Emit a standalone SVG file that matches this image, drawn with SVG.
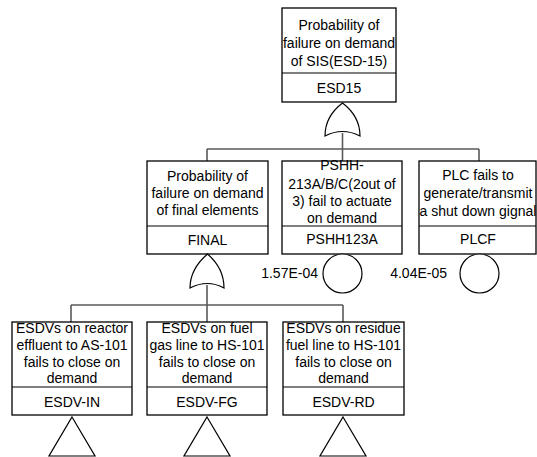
<svg xmlns="http://www.w3.org/2000/svg" width="537" height="457" viewBox="0 0 537 457">
  <style>
    .box { fill: #ffffff; stroke: #000000; stroke-width: 1.3; }
    .sep { stroke: #000000; stroke-width: 1.2; }
    .gate { fill: #ffffff; stroke: #000000; stroke-width: 1.2; }
    .wire { fill: none; stroke: #5a5a5a; stroke-width: 1.6; }
    text { font-family: "Liberation Sans", Arial, sans-serif; font-size: 14px; fill: #000000; text-anchor: middle; }
    .prob { text-anchor: end; }
  </style>

  <!-- connectors -->
  <g id="connectors">
    <path class="wire" d="M342.5,133 V149 M207,149 H479 M207,149 V161 M342.5,149 V161 M479,149 V161"/>
    <path class="wire" d="M207,285 V305 M71,305 H343 M71,305 V322 M207,305 V322 M343,305 V322"/>
  </g>

  <!-- top event -->
  <g id="ESD15">
    <rect class="box" x="282" y="8" width="114" height="94"/>
    <line class="sep" x1="282" y1="73" x2="396" y2="73"/>
    <text x="339" y="30">Probability of</text>
    <text x="339" y="48">failure on demand</text>
    <text x="339" y="66">of SIS(ESD-15)</text>
    <text x="339" y="93">ESD15</text>
    <path class="gate" d="M325,136 C325,121 332,111 342.5,103 C353,111 360,121 360,136 Q342.5,127 325,136 Z"/>
  </g>

  <!-- intermediate event -->
  <g id="FINAL">
    <rect class="box" x="147" y="161" width="121" height="93"/>
    <line class="sep" x1="147" y1="226" x2="268" y2="226"/>
    <text x="207.5" y="181">Probability of</text>
    <text x="207.5" y="198">failure on demand</text>
    <text x="207.5" y="215">of final elements</text>
    <text x="207.5" y="245">FINAL</text>
    <path class="gate" d="M190,288 C190,273 197,263 207.5,254 C218,263 224,273 224,288 Q207.5,279 190,288 Z"/>
  </g>

  <!-- basic events -->
  <g id="PSHH123A">
    <rect class="box" x="282" y="161" width="120" height="93"/>
    <line class="sep" x1="282" y1="226" x2="402" y2="226"/>
    <text x="342" y="170">PSHH-</text>
    <text x="342" y="189">213A/B/C(2out of</text>
    <text x="342" y="206">3) fail to actuate</text>
    <text x="342" y="223">on demand</text>
    <text x="342" y="244">PSHH123A</text>
    <circle class="gate" cx="342.5" cy="273.5" r="19.5"/>
    <text class="prob" x="318" y="278">1.57E-04</text>
  </g>

  <g id="PLCF">
    <rect class="box" x="419" y="161" width="117" height="93"/>
    <line class="sep" x1="419" y1="226" x2="536" y2="226"/>
    <text x="478" y="180">PLC fails to</text>
    <text x="478" y="198">generate/transmit</text>
    <text x="478" y="216">a shut down gignal</text>
    <text x="478" y="244">PLCF</text>
    <circle class="gate" cx="479.5" cy="273.5" r="19.5"/>
    <text class="prob" x="447" y="278">4.04E-05</text>
  </g>

  <!-- undeveloped transfers -->
  <g id="ESDV-IN">
    <rect class="box" x="12" y="322" width="120" height="93"/>
    <line class="sep" x1="12" y1="387" x2="132" y2="387"/>
    <text x="72" y="333">ESDVs on reactor</text>
    <text x="72" y="349.5">effluent to AS-101</text>
    <text x="72" y="366.5">fails to close on</text>
    <text x="72" y="383">demand</text>
    <text x="72" y="407">ESDV-IN</text>
    <path class="gate" d="M72,417 L95,456 L49,456 Z"/>
  </g>

  <g id="ESDV-FG">
    <rect class="box" x="147" y="322" width="120" height="93"/>
    <line class="sep" x1="147" y1="387" x2="267" y2="387"/>
    <text x="207" y="333">ESDVs on fuel</text>
    <text x="207" y="349.5">gas line to HS-101</text>
    <text x="207" y="366.5">fails to close on</text>
    <text x="207" y="383">demand</text>
    <text x="207" y="407">ESDV-FG</text>
    <path class="gate" d="M207,417 L230,456 L184,456 Z"/>
  </g>

  <g id="ESDV-RD">
    <rect class="box" x="283" y="322" width="121" height="93"/>
    <line class="sep" x1="283" y1="387" x2="404" y2="387"/>
    <text x="343.5" y="333">ESDVs on residue</text>
    <text x="343.5" y="349.5">fuel line to HS-101</text>
    <text x="343.5" y="366.5">fails to close on</text>
    <text x="343.5" y="383">demand</text>
    <text x="343.5" y="407">ESDV-RD</text>
    <path class="gate" d="M343,417 L366,456 L320,456 Z"/>
  </g>
</svg>
